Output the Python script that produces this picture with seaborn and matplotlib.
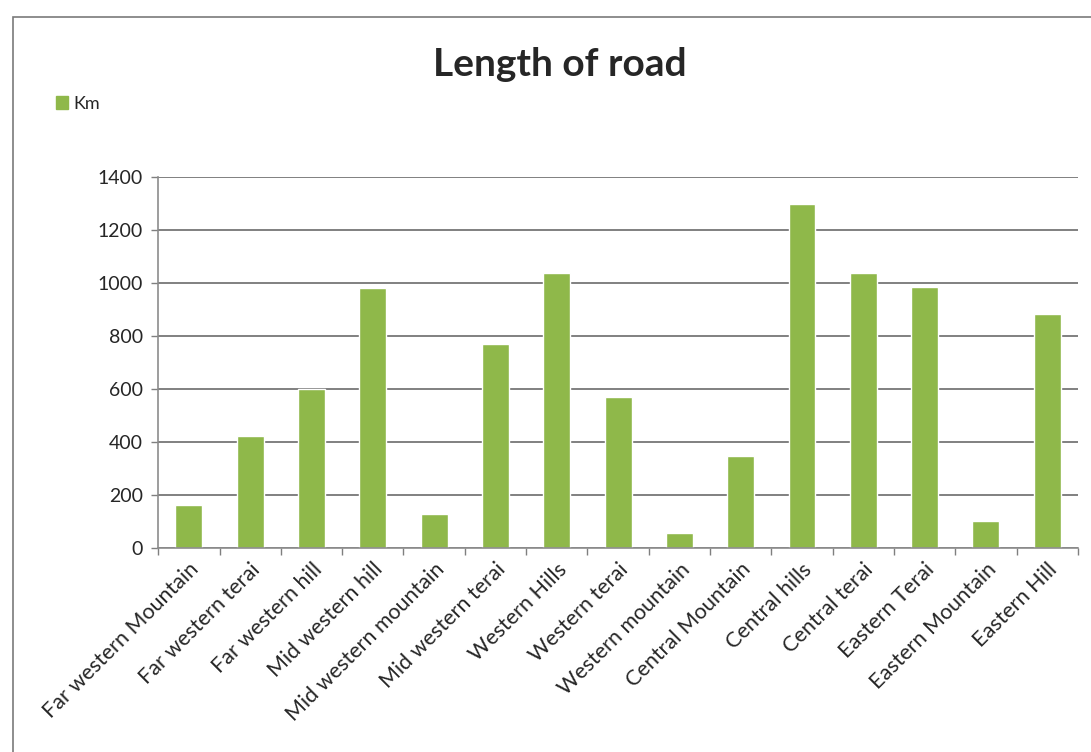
import numpy as np
import pandas as pd
import matplotlib
matplotlib.use("Agg")
import matplotlib.pyplot as plt
import seaborn as sns
from matplotlib.patches import Rectangle, Patch

# data
regions = ["Far western Mountain", "Far western terai", "Far western hill",
           "Mid western hill", "Mid western mountain", "Mid western terai",
           "Western Hills", "Western terai", "Western mountain",
           "Central Mountain", "Central hills", "Central terai",
           "Eastern Terai", "Eastern Mountain", "Eastern Hill"]
km = [162, 423, 600, 981, 128, 770, 1038, 570, 57, 347, 1298, 1038, 985, 102, 883]
y_ticks = [0, 200, 400, 600, 800, 1000, 1200, 1400]

df = pd.DataFrame({"Region": regions, "Km": km})

sns.set_style("white")
plt.rcParams["font.family"] = ["Lato", "DejaVu Sans"]

bar_color = "#8fb84a"

fig = plt.figure(figsize=(10.91, 7.52), dpi=100)
ax = fig.add_axes([0.145, 0.271, 0.843, 0.494])

sns.barplot(data=df, x="Region", y="Km", color=bar_color, width=0.44,
            saturation=1, ax=ax)

ax.set_ylim(0, 1400)
ax.set_xlim(-0.5, len(regions) - 0.5)
ax.set_yticks(y_ticks)
ax.set_yticklabels([str(t) for t in y_ticks], fontsize=14)
ax.set_xticks(range(len(regions)))
ax.set_xticklabels(regions, rotation=45, ha="right", rotation_mode="anchor",
                   fontsize=15.5)
ax.tick_params(axis="x", length=0, pad=8)
ax.tick_params(axis="y", length=5, width=1, color="#7f7f7f", direction="out",
               left=True, pad=6)
# Excel style tick marks between categories
ax.set_xticks(np.arange(-0.5, len(regions)), minor=True)
ax.tick_params(axis="x", which="minor", length=5, width=1, color="#7f7f7f",
               bottom=True)

ax.set_axisbelow(True)
ax.grid(axis="y", color="#6b6b6b", linewidth=1.2)
for side in ["top", "right"]:
    ax.spines[side].set_visible(False)
for side in ["left", "bottom"]:
    ax.spines[side].set_color("#8c8c8c")
    ax.spines[side].set_linewidth(1.2)
ax.set_xlabel("")
ax.set_ylabel("")

fig.text(0.513, 0.914, "Length of road", ha="center", va="center",
         fontsize=28, fontweight="bold")

fig.legend(handles=[Patch(color=bar_color, label="Km")], loc="center left",
           bbox_to_anchor=(0.036, 0.862), frameon=False, fontsize=13,
           handlelength=0.7, handleheight=0.7, handletextpad=0.3)

# chart frame
fig.patches.append(Rectangle((0.012, -0.1), 1.2, 1.077,
                             transform=fig.transFigure, fill=False,
                             edgecolor="#7a7a7a", linewidth=1.2))

fig.savefig("out.png", dpi=100)
